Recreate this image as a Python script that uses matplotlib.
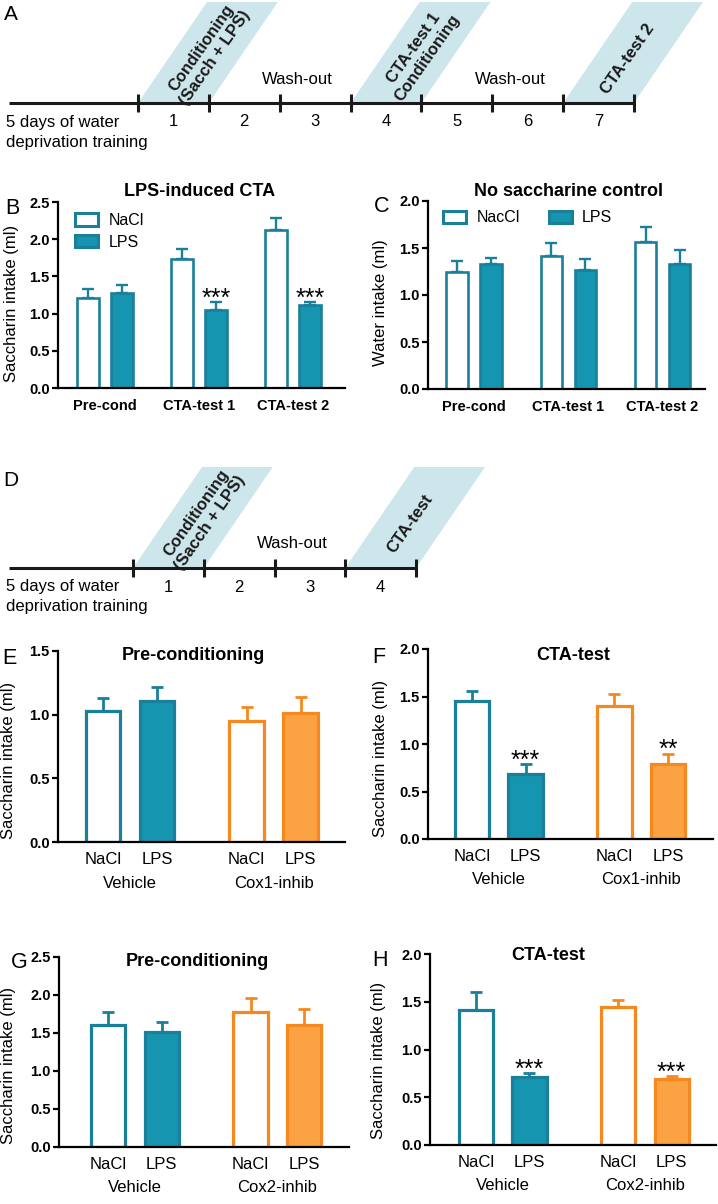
import numpy as np
import matplotlib.pyplot as plt
from matplotlib.patches import Polygon, Patch

plt.rcParams['font.family'] = ['Liberation Sans', 'DejaVu Sans']

# -----------------------------
# data
# -----------------------------
days_a = ['1', '2', '3', '4', '5', '6', '7']
days_d = ['1', '2', '3', '4']
shade_a = {1: 'Conditioning\n(Sacch + LPS)', 4: 'CTA-test 1\nConditioning', 7: 'CTA-test 2'}
shade_d = {1: 'Conditioning\n(Sacch + LPS)', 4: 'CTA-test'}
washout_a = [(2, 3), (5, 6)]
washout_d = [(2, 3)]

bc_groups = ['Pre-cond', 'CTA-test 1', 'CTA-test 2']
b_nacl = [1.21, 1.73, 2.12]
b_nacl_sem = [0.12, 0.14, 0.17]
b_lps = [1.28, 1.05, 1.12]
b_lps_sem = [0.11, 0.10, 0.03]
b_stars = ['', '***', '***']

c_nacl = [1.24, 1.41, 1.56]
c_nacl_sem = [0.12, 0.14, 0.16]
c_lps = [1.33, 1.27, 1.33]
c_lps_sem = [0.06, 0.11, 0.15]

bar_labels = ['NaCl', 'LPS', 'NaCl', 'LPS']
e_vals = [1.03, 1.11, 0.95, 1.01]
e_sem = [0.10, 0.11, 0.11, 0.13]
f_vals = [1.45, 0.68, 1.40, 0.79]
f_sem = [0.11, 0.11, 0.13, 0.11]
f_stars = ['', '***', '', '**']
g_vals = [1.61, 1.51, 1.77, 1.61]
g_sem = [0.17, 0.13, 0.19, 0.20]
h_vals = [1.41, 0.71, 1.44, 0.69]
h_sem = [0.19, 0.04, 0.08, 0.03]
h_stars = ['', '***', '', '***']

teal_edge = '#1a8099'
teal_fill = '#1595af'
orange_edge = '#f5891f'
orange_fill = '#fba343'
shade = '#cde6ec'
ink = '#1a1a1a'

W, H = 718, 1204
fig = plt.figure(figsize=(W / 100, H / 100), dpi=100)


def rect(x0, y0, x1, y1):
    return [x0 / W, 1 - y1 / H, (x1 - x0) / W, (y1 - y0) / H]


def ftext(x, y, s, **kw):
    kw.setdefault('ha', 'center')
    kw.setdefault('va', 'center')
    fig.text(x / W, 1 - y / H, s, **kw)


# -----------------------------
# timelines (A and D)
# -----------------------------
tl = fig.add_axes([0, 0, 1, 1])
tl.set_xlim(0, W)
tl.set_ylim(H, 0)
tl.axis('off')


def timeline(y, x_first, step, days, shaded, washouts, letter):
    ticks = x_first + step * np.arange(len(days) + 1)
    for d, txt in shaded.items():
        x0, x1 = ticks[d - 1], ticks[d]
        tl.add_patch(Polygon([(x0, y), (x1, y), (x1 + 69, y - 101), (x0 + 69, y - 101)],
                             closed=True, fc=shade, ec='none'))
        cx, cy = (x0 + x1) / 2 + 35, y - 50
        if '\n' not in txt:
            cx, cy = cx - 6, cy + 6
        tl.text(cx, cy, txt, rotation=55, rotation_mode='anchor', ha='center', va='center',
                fontsize=12, fontweight='bold', color=ink, linespacing=1.15)
    tl.plot([9, ticks[-1]], [y, y], color=ink, lw=2.2, solid_capstyle='butt')
    tl.vlines(ticks, y - 9, y + 9, color=ink, lw=2.2)
    for i, d in enumerate(days):
        tl.text((ticks[i] + ticks[i + 1]) / 2, y + 19, d, ha='center', va='center', fontsize=12)
    for a, b in washouts:
        tl.text((ticks[a - 1] + ticks[b]) / 2 + 18, y - 24, 'Wash-out',
                ha='center', va='center', fontsize=12)
    tl.text(6, y + 19, '5 days of water', ha='left', va='center', fontsize=12)
    tl.text(6, y + 39, 'deprivation training', ha='left', va='center', fontsize=12)
    tl.text(11, y - 88, letter, ha='center', va='center', fontsize=15)


timeline(103, 138, 70.86, days_a, shade_a, washout_a, 'A')
timeline(568, 133, 70.75, days_d, shade_d, washout_d, 'D')


# -----------------------------
# bar panels
# -----------------------------
def style_axis(ax, ylim, yticks):
    ax.set_ylim(*ylim)
    ax.set_yticks(yticks)
    ax.set_yticklabels([f'{t:.1f}' for t in yticks], fontweight='bold', fontsize=10.5)
    for s in ['top', 'right']:
        ax.spines[s].set_visible(False)
    for s in ['left', 'bottom']:
        ax.spines[s].set_linewidth(1.6)
    ax.tick_params(axis='y', length=4, width=1.6, pad=2)
    ax.patch.set_alpha(0)


def stars_on(ax, xs, tops, marks):
    for x, t, m in zip(xs, tops, marks):
        if m:
            ax.annotate(m, xy=(x, t), xytext=(0, -2.7), textcoords='offset points',
                        ha='center', va='baseline', fontsize=18)


def pair_panel(box_px, nacl, nacl_sem, lps, lps_sem, ylim, yticks, xlim, legend_labels, ncol, anchor):
    ax = fig.add_axes(rect(*box_px))
    x = np.arange(len(bc_groups))
    off, bw = 0.18, 0.23
    ax.bar(x - off, nacl, bw, color='white', edgecolor=teal_edge, linewidth=1.9, zorder=2)
    ax.bar(x + off, lps, bw, color=teal_fill, edgecolor=teal_edge, linewidth=1.9, zorder=2)
    ax.errorbar(x - off, nacl, yerr=[np.zeros(len(x)), nacl_sem], fmt='none', ecolor=teal_edge,
                elinewidth=1.7, capsize=4.5, capthick=1.7, zorder=1)
    ax.errorbar(x + off, lps, yerr=[np.zeros(len(x)), lps_sem], fmt='none', ecolor=teal_edge,
                elinewidth=1.7, capsize=4.5, capthick=1.7, zorder=1)
    style_axis(ax, ylim, yticks)
    ax.set_xlim(*xlim)
    ax.set_xticks(x, bc_groups, fontweight='bold', fontsize=10.5)
    ax.tick_params(axis='x', length=0, pad=8)
    handles = [Patch(fc='white', ec=teal_edge, lw=2.2), Patch(fc=teal_fill, ec=teal_edge, lw=2.2)]
    ax.legend(handles, legend_labels, loc='upper left', bbox_to_anchor=anchor, ncol=ncol,
              frameon=False, fontsize=11.5, handlelength=1.45, handleheight=0.85,
              handletextpad=0.65, labelspacing=0.4, columnspacing=1.8,
              borderpad=0, borderaxespad=0)
    return ax, x


ax_b, xb = pair_panel((58, 202, 345, 388), b_nacl, b_nacl_sem, b_lps, b_lps_sem,
                      (0, 2.5), [0, 0.5, 1.0, 1.5, 2.0, 2.5], (-0.5, 2.55),
                      ['NaCl', 'LPS'], 1, (0.059, 0.94))
stars_on(ax_b, xb + 0.18, np.add(b_lps, b_lps_sem), b_stars)

ax_c, xc = pair_panel((428, 201, 705, 389), c_nacl, c_nacl_sem, c_lps, c_lps_sem,
                      (0, 2.0), [0, 0.5, 1.0, 1.5, 2.0], (-0.49, 2.45),
                      ['NacCl', 'LPS'], 2, (0.054, 0.95))


def cox_panel(box_px, vals, sem, ylim, yticks, xlim, group2, marks=None):
    ax = fig.add_axes(rect(*box_px))
    pos = np.array([0, 1, 2.66, 3.66])
    edges = [teal_edge, teal_edge, orange_edge, orange_edge]
    faces = ['white', teal_fill, 'white', orange_fill]
    ax.bar(pos, vals, 0.64, color=faces, edgecolor=edges, linewidth=2.3, zorder=2)
    for p, v, s, c in zip(pos, vals, sem, edges):
        ax.errorbar(p, v, yerr=[[0], [s]], fmt='none', ecolor=c, elinewidth=2,
                    capsize=4.5, capthick=2, zorder=1)
    style_axis(ax, ylim, yticks)
    ax.set_xlim(*xlim)
    ax.set_xticks(pos, bar_labels, fontsize=12)
    ax.tick_params(axis='x', length=0, pad=7)
    for mid, name in zip([0.5, 3.16], ['Vehicle', group2]):
        ax.annotate(name, xy=(mid, 0), xycoords=('data', 'axes fraction'),
                    xytext=(0, -41 * 0.72), textcoords='offset points',
                    ha='center', va='center', fontsize=12)
    if marks:
        stars_on(ax, pos, np.add(vals, sem), marks)
    return ax


cox_panel((58, 651, 345, 842), e_vals, e_sem, (0, 1.5), [0, 0.5, 1.0, 1.5], (-0.83, 4.48), 'Cox1-inhib')
cox_panel((428, 649, 713, 839), f_vals, f_sem, (0, 2.0), [0, 0.5, 1.0, 1.5, 2.0], (-0.82, 4.5), 'Cox1-inhib', f_stars)
cox_panel((59, 957, 349, 1147), g_vals, g_sem, (0, 2.5), [0, 0.5, 1.0, 1.5, 2.0, 2.5], (-0.92, 4.5), 'Cox2-inhib')
cox_panel((430, 954, 716, 1145), h_vals, h_sem, (0, 2.0), [0, 0.5, 1.0, 1.5, 2.0], (-0.86, 4.49), 'Cox2-inhib', h_stars)

# titles, panel letters, y labels
ftext(200, 192, 'LPS-induced CTA', fontsize=13, fontweight='bold')
ftext(568, 192, 'No saccharine control', fontsize=13, fontweight='bold')
ftext(193, 656, 'Pre-conditioning', fontsize=13, fontweight='bold')
ftext(573, 655, 'CTA-test', fontsize=13, fontweight='bold')
ftext(197, 962, 'Pre-conditioning', fontsize=13, fontweight='bold')
ftext(548, 955, 'CTA-test', fontsize=13, fontweight='bold')

for lx, ly, letter in [(12, 208, 'B'), (382, 207, 'C'), (9, 659, 'E'), (379, 657, 'F'),
                       (19, 963, 'G'), (380, 961, 'H')]:
    ftext(lx, ly, letter, fontsize=15.5)

for lx, ly, lab in [(12, 303, 'Saccharin intake (ml)'), (381, 303, 'Water intake (ml)'),
                    (9, 760, 'Saccharin intake (ml)'), (381, 758, 'Saccharin intake (ml)'),
                    (9, 1065, 'Saccharin intake (ml)'), (379, 1060, 'Saccharin intake (ml)')]:
    ftext(lx, ly, lab, fontsize=12, rotation=90)

plt.savefig('out.png', dpi=100)
